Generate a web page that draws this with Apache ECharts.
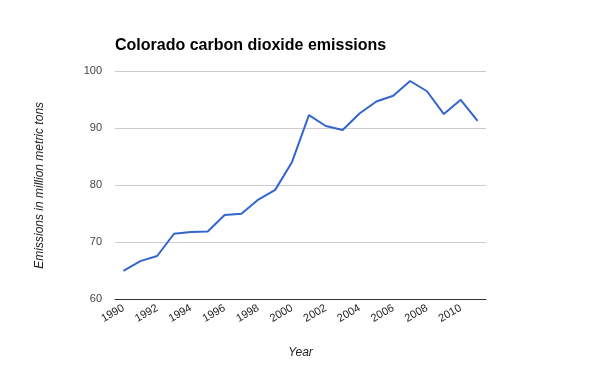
<!DOCTYPE html>
<html><head><meta charset="utf-8">
<script src="https://cdn.jsdelivr.net/npm/echarts@6/dist/echarts.min.js"></script>
<style>html,body{margin:0;padding:0;background:#fff}#c{width:600px;height:371px}</style>
</head><body><div id="c"></div>
<script>
var years = ['1990','1991','1992','1993','1994','1995','1996','1997','1998','1999','2000','2001','2002','2003','2004','2005','2006','2007','2008','2009','2010','2011'];
var emissions = [65.0,66.7,67.6,71.5,71.8,71.9,74.8,75.0,77.5,79.2,84.1,92.3,90.4,89.7,92.6,94.7,95.7,98.3,96.5,92.5,95.0,91.3];
var yTicks = [60,70,80,90,100];
var chart = echarts.init(document.getElementById('c'), null, {renderer:'canvas'});
chart.setOption({
  animation:false,
  backgroundColor:'#fff',
  title:{text:'Colorado carbon dioxide emissions', left:110, top:33,
    textStyle:{fontFamily:'Arial, Liberation Sans', fontSize:16, fontWeight:'bold', color:'#000'}},
  grid:{left:115, right:114, top:71.3, bottom:71.7, containLabel:false},
  xAxis:{type:'category', data:years, boundaryGap:true,
    name:'Year', nameLocation:'middle', nameGap:47,
    nameTextStyle:{fontFamily:'Arial, Liberation Sans', fontSize:12, fontStyle:'italic', color:'#222'},
    axisLine:{show:true, lineStyle:{color:'#333', width:1}},
    axisTick:{show:false},
    axisLabel:{interval:1, rotate:30, margin:8, fontFamily:'Arial, Liberation Sans', fontSize:11, color:'#222'},
    splitLine:{show:false}},
  yAxis:{type:'value', min:yTicks[0], max:yTicks[yTicks.length-1], interval:10,
    name:'Emissions in million metric tons', nameLocation:'middle', nameGap:69,
    nameTextStyle:{fontFamily:'Arial, Liberation Sans', fontSize:12, fontStyle:'italic', color:'#222'},
    axisLine:{show:false}, axisTick:{show:false},
    axisLabel:{margin:13, fontFamily:'Arial, Liberation Sans', fontSize:11, color:'#444'},
    splitLine:{lineStyle:{color:'#ccc', width:1}}},
  series:[{type:'line', data:emissions, showSymbol:false, symbol:'none',
    lineStyle:{color:'#3366cc', width:2}, itemStyle:{color:'#3366cc'}}]
});
</script></body></html>
